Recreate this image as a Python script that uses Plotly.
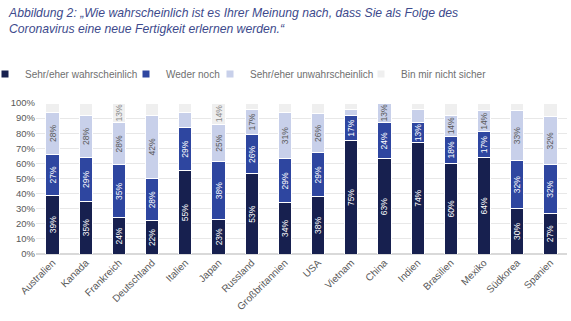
import plotly.graph_objects as go

countries = ["Australien", "Kanada", "Frankreich", "Deutschland", "Italien", "Japan",
             "Russland", "Großbritannien", "USA", "Vietnam", "China", "Indien",
             "Brasilien", "Mexiko", "Südkorea", "Spanien"]
wahrscheinlich = [39, 35, 24, 22, 55, 23, 53, 34, 38, 75, 63, 74, 60, 64, 30, 27]
weder_noch = [27, 29, 35, 28, 29, 38, 26, 29, 29, 17, 24, 13, 18, 17, 32, 32]
unwahrscheinlich = [28, 28, 28, 42, 10, 25, 17, 31, 26, 4, 13, 9, 14, 14, 33, 32]
nicht_sicher = [6, 8, 13, 8, 6, 14, 4, 6, 7, 4, 0, 4, 8, 5, 5, 9]

series = [
    ("Sehr/eher wahrscheinlich", wahrscheinlich, "#17204f", "white"),
    ("Weder noch", weder_noch, "#2e46a0", "white"),
    ("Sehr/eher unwahrscheinlich", unwahrscheinlich, "#c8d0ea", "#595959"),
    ("Bin mir nicht sicher", nicht_sicher, "#efefef", "#8a8a8a"),
]

W, H = 571, 321
ML, MR, MT, MB = 36, 4, 103, 67
PW = W - ML - MR
PH = H - MT - MB


def px_x(x):
    return (x - ML) / PW


def px_y(y):
    return (H - MB - y) / PH


legend_text_x = [26, 167, 251, 402]
legend_names = ["legend", "legend2", "legend3", "legend4"]

fig = go.Figure()
for i, (name, vals, color, tcol) in enumerate(series):
    fig.add_trace(go.Bar(
        name=name, x=countries, y=vals,
        marker=dict(color=color, line=dict(color="white", width=1)),
        text=[f"{v}%" if v >= 13 else "" for v in vals],
        textposition="inside", insidetextanchor="middle", textangle=-90,
        textfont=dict(family="Arial", size=8.5, color=tcol),
        constraintext="none",
        width=0.4,
        showlegend=False,
    ))
    # legend entry with a small square swatch
    fig.add_trace(go.Scatter(
        name=name, x=[None], y=[None], mode="markers",
        marker=dict(symbol="square", size=7, color=color),
        legend=legend_names[i], showlegend=True, hoverinfo="skip",
    ))

layout_legends = {}
for i, ln in enumerate(legend_names):
    layout_legends[ln] = dict(
        orientation="h", x=px_x(legend_text_x[i] - 41), xanchor="left",
        y=px_y(74), yanchor="middle",
        font=dict(family="Arial", size=10, color="#6f6f6f"),
        itemwidth=30, bgcolor="rgba(0,0,0,0)",
    )

fig.update_layout(
    barmode="stack",
    width=W, height=H,
    margin=dict(l=ML, r=MR, t=MT, b=MB, autoexpand=False),
    paper_bgcolor="white", plot_bgcolor="white",
    font=dict(family="Arial", color="#595959", size=10),
    showlegend=True,
    annotations=[dict(
        text="Abbildung 2: „Wie wahrscheinlich ist es Ihrer Meinung nach, dass Sie als Folge des<br>Coronavirus eine neue Fertigkeit erlernen werden.“",
        xref="paper", yref="paper", x=px_x(6), y=px_y(4),
        xanchor="left", yanchor="top", align="left", showarrow=False,
        font=dict(family="Arial", size=12.2, color="#3d4a8c", style="italic"),
    )],
    **layout_legends,
)
fig.update_xaxes(tickangle=-45, tickfont=dict(size=10, color="#595959"),
                 showline=False, ticks="")
fig.update_yaxes(range=[0, 100], dtick=10, ticksuffix="%",
                 gridcolor="#e8e8e8", zeroline=True, zerolinecolor="#d9d9d9",
                 tickfont=dict(size=9.5, color="#595959"))

fig.write_html("out.html")
